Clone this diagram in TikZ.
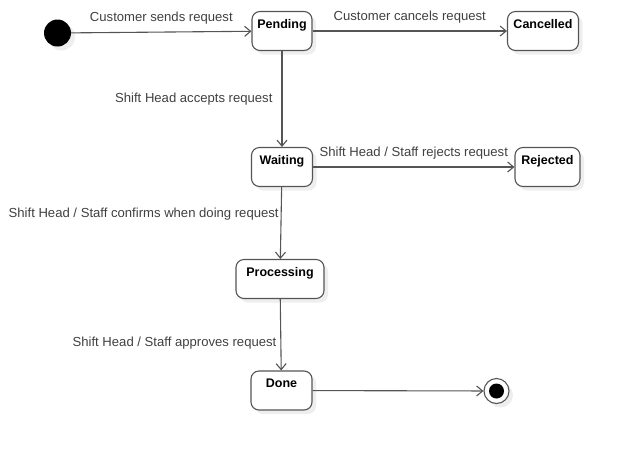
\documentclass[tikz,border=0pt]{standalone}
\usepackage{fontspec}
\setmainfont{Liberation Sans}
\usetikzlibrary{arrows.meta, shadows}

\definecolor{linegray}{HTML}{555555}
\definecolor{textgray}{HTML}{404040}
\definecolor{shadowgray}{HTML}{EEEEEE}

\tikzset{
    state/.style={draw=linegray, line width=1.1pt, rounded corners=8pt, fill=white,
        font=\fontsize{12.5}{14}\selectfont\bfseries, inner xsep=4pt, inner ysep=4pt,
        text height=12.5pt, text depth=18.5pt,
        drop shadow={shadow xshift=4pt, shadow yshift=-4pt, fill=shadowgray, opacity=1}},
    startstate/.style={circle, fill=black, minimum size=27pt, inner sep=0pt,
        drop shadow={shadow xshift=4pt, shadow yshift=-4pt, fill=shadowgray, opacity=1}},
    endstate/.style={circle, draw=linegray, line width=1.1pt, fill=white, minimum size=25pt, inner sep=0pt,
        drop shadow={shadow xshift=4pt, shadow yshift=-4pt, fill=shadowgray, opacity=1}},
    trans/.style={draw=linegray, line width=1.1pt, -{Straight Barb[length=6pt, width=10pt]}},
    lbl/.style={text=textgray, font=\fontsize{13.1}{15}\selectfont, inner sep=1pt}
}

\begin{document}
\begin{tikzpicture}[x=1pt, y=-1pt]
        \useasboundingbox (0,0) rectangle (619,451);

        \node[startstate] (start) at (57.5,33) {};
        \node[state, minimum width=60pt] (pending) at (282,31) {Pending};
        \node[state, minimum width=71pt] (cancelled) at (543,31) {Cancelled};
        \node[state, minimum width=61pt] (waiting) at (282,167) {Waiting};
        \node[state, minimum width=65pt] (rejected) at (547.5,167) {Rejected};
        \node[state, minimum width=88pt] (processing) at (280,279) {Processing};
        \node[state, minimum width=61pt] (done) at (281.5,390.5) {Done};
        \node[endstate] (finish) at (496.5,391) {};
        \node[circle, fill=black, minimum size=15pt, inner sep=0pt] (finishdot) at (finish) {};

        \draw[trans] (start) -- (pending) node[lbl, midway, above=6pt] {Customer sends request};
        \draw[trans] (pending) -- (cancelled) node[lbl, midway, above=6pt] {Customer cancels request};
        \draw[trans] (pending) -- (waiting) node[lbl, midway, left=8pt] {Shift Head accepts request};
        \draw[trans] (waiting) -- (rejected) node[lbl, midway, above=6pt] {Shift Head / Staff rejects request};
        \draw[trans] (waiting) -- (processing) node[lbl, pos=0.38, left=1pt] {Shift Head / Staff confirms when doing request};
        \draw[trans] (processing) -- (done) node[lbl, pos=0.62, left=3pt] {Shift Head / Staff approves request};
        \draw[trans] (done) -- (finish); % final
    \end{tikzpicture}
\end{document}
